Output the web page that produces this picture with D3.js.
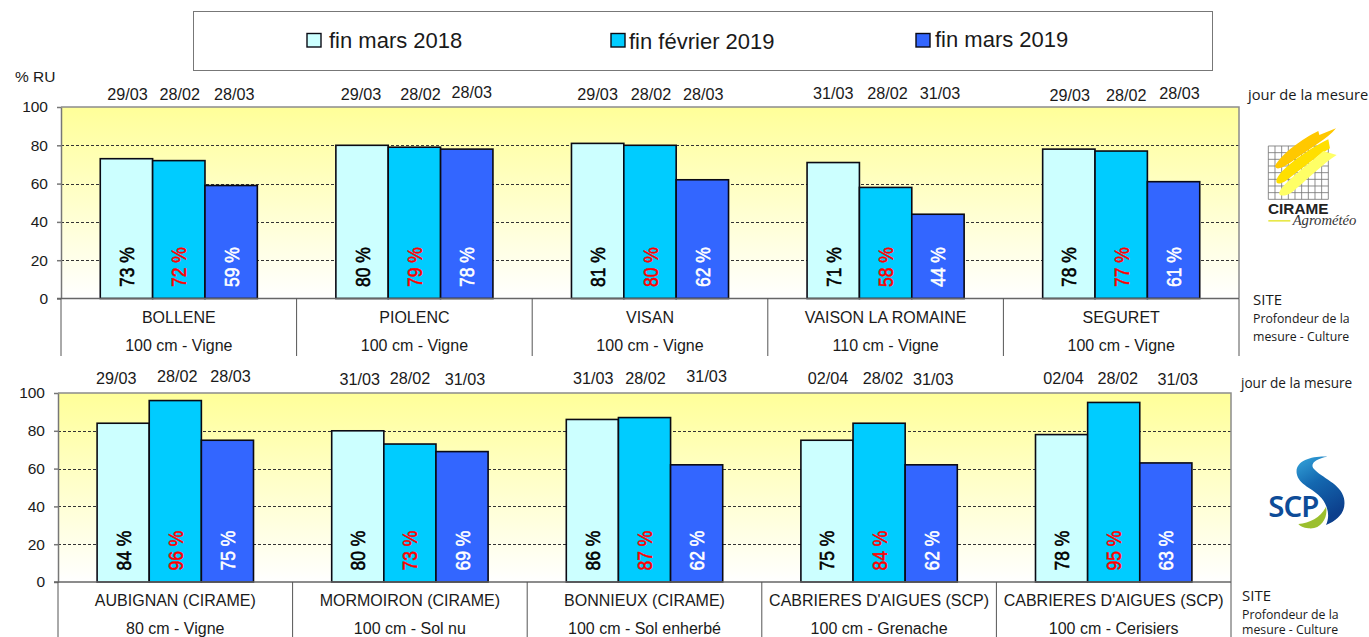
<!DOCTYPE html>
<html>
<head>
<meta charset="utf-8">
<title>Réserve utile</title>
<script src="https://cdn.jsdelivr.net/npm/d3@7"></script>
<style>
  html, body { margin: 0; padding: 0; background: #fff; overflow: hidden; }
  text { font-family: "Liberation Sans", Arial, sans-serif; fill: #1a1a1a; }
  .note { font-family: "Open Sans", "Noto Sans", sans-serif; }
</style>
</head>
<body>
<div id="viz"></div>
<script>
const seriesNames = ["fin mars 2018", "fin février 2019", "fin mars 2019"];
const seriesColors = ["#ccffff", "#00ccff", "#3366ff"];
const valueColors = ["#000000", "#ff0000", "#ffffff"];
const yTicks = [0, 20, 40, 60, 80, 100];

const sitesTop = ["BOLLENE", "PIOLENC", "VISAN", "VAISON LA ROMAINE", "SEGURET"];
const depthsTop = ["100 cm - Vigne", "100 cm - Vigne", "100 cm - Vigne", "110 cm - Vigne", "100 cm - Vigne"];
const valuesTop2018 = [73, 80, 81, 71, 78];
const valuesTopFev2019 = [72, 79, 80, 58, 77];
const valuesTopMar2019 = [59, 78, 62, 44, 61];
const datesTop = [
    ["29/03", "28/02", "28/03"],
    ["29/03", "28/02", "28/03"],
    ["29/03", "28/02", "28/03"],
    ["31/03", "28/02", "31/03"],
    ["29/03", "28/02", "28/03"]
];

const sitesBottom = ["AUBIGNAN (CIRAME)", "MORMOIRON (CIRAME)", "BONNIEUX (CIRAME)", "CABRIERES D'AIGUES (SCP)", "CABRIERES D'AIGUES (SCP) "];
const depthsBottom = ["80 cm - Vigne", "100 cm - Sol nu", "100 cm - Sol enherbé", "100 cm - Grenache", "100 cm - Cerisiers"];
const valuesBottom2018 = [84, 80, 86, 75, 78];
const valuesBottomFev2019 = [96, 73, 87, 84, 95];
const valuesBottomMar2019 = [75, 69, 62, 62, 63];
const datesBottom = [
    ["29/03", "28/02", "28/03"],
    ["31/03", "28/02", "31/03"],
    ["31/03", "28/02", "31/03"],
    ["02/04", "28/02", "31/03"],
    ["02/04", "28/02", "31/03"]
];

// the date labels were placed by hand in the original, so they wander a bit
const nudgeTop = [
    [[1, 0], [1, 0], [3, 0]],
    [[-1, 0], [6, 0], [5, -2]],
    [[0, 0], [1, 0], [1, 0]],
    [[0, -1], [2, -1], [2, -1]],
    [[1, 1], [5, 1], [6, -1]]
];
const nudgeBottom = [
    [[-7, 2], [2, 0], [3, 0]],
    [[2, 3], [0, 2], [3, 3]],
    [[1, 2], [1, 2], [10, 0]],
    [[1, 2], [4, 2], [2, 3]],
    [[2, 2], [4, 2], [12, 3]]
];

const width = 1369, height = 637;

const svg = d3.select("#viz").append("svg")
    .attr("width", width)
    .attr("height", height)
    .style("display", "block");

const defs = svg.append("defs");
const grad = defs.append("linearGradient")
    .attr("id", "plotBg")
    .attr("x1", 0).attr("y1", 0).attr("x2", 0).attr("y2", 1);
grad.append("stop").attr("offset", "0%").attr("stop-color", "#ffff99");
grad.append("stop").attr("offset", "100%").attr("stop-color", "#ffffff");

function drawPanel(opt) {
    const x = d3.scaleBand().domain(opt.sites).range([opt.left, opt.right]);
    const xInner = d3.scaleBand().domain(seriesNames)
        .range([0, x.bandwidth()])
        .paddingInner(0).paddingOuter(0.75);
    const y = d3.scaleLinear().domain([0, 100]).range([opt.bottom, opt.top]);

    svg.append("rect")
        .attr("x", opt.left).attr("y", opt.top)
        .attr("width", opt.right - opt.left).attr("height", opt.bottom - opt.top)
        .attr("fill", "url(#plotBg)");

    // grid
    svg.append("g").selectAll("line")
        .data(yTicks.filter(d => d > 0 && d < 100))
        .enter().append("line")
        .attr("x1", opt.left).attr("x2", opt.right)
        .attr("y1", d => Math.round(y(d)) + 0.5).attr("y2", d => Math.round(y(d)) + 0.5)
        .attr("stroke", "#333")
        .attr("stroke-width", 1)
        .attr("stroke-dasharray", "3,2");

    // frame
    svg.append("path")
        .attr("d", "M" + opt.left + "," + opt.top + "H" + opt.right + "V" + opt.bottom)
        .attr("fill", "none").attr("stroke", "#8c8c8c").attr("stroke-width", 1.5);

    // bars
    const groups = svg.append("g").selectAll("g")
        .data(opt.sites)
        .enter().append("g")
        .attr("transform", d => "translate(" + x(d) + ",0)");

    opt.values.forEach(function(vals, s) {
        groups.append("rect")
            .attr("x", xInner(seriesNames[s]))
            .attr("width", xInner.bandwidth())
            .attr("y", (d, i) => y(vals[i]))
            .attr("height", (d, i) => y(0) - y(vals[i]))
            .attr("fill", seriesColors[s])
            .attr("stroke", "#0a0a14")
            .attr("stroke-width", 1.6);

        // the value labels are stretched across the bar in the original
        groups.append("text")
            .attr("transform", "translate(" + (xInner(seriesNames[s]) + xInner.bandwidth() / 2 + 7.5) + "," + (opt.bottom - 11.5) + ") rotate(-90) scale(1,1.2)")
            .style("font-size", "17.5px")
            .style("fill", valueColors[s])
            .style("stroke", valueColors[s])
            .style("stroke-width", 0.5)
            .text((d, i) => vals[i] + " %");

        groups.append("text")
            .attr("x", (d, i) => xInner(seriesNames[s]) + xInner.bandwidth() / 2 + opt.nudge[i][s][0])
            .attr("y", (d, i) => opt.dateY + opt.nudge[i][s][1])
            .attr("text-anchor", "middle")
            .style("font-size", "16.2px")
            .text((d, i) => opt.dates[i][s]);
    });

    // y axis
    const yAxis = svg.append("g")
        .attr("transform", "translate(" + opt.left + ",0)")
        .call(d3.axisLeft(y).tickValues(yTicks).tickSize(4).tickPadding(9).tickSizeOuter(0));
    yAxis.selectAll("path, line").attr("stroke", "#777").attr("stroke-width", 1.5);
    yAxis.selectAll("text").style("font-size", "15.5px").attr("font-family", null);

    // site axis below the plot
    svg.append("line")
        .attr("x1", opt.left - 4).attr("x2", opt.right)
        .attr("y1", opt.bottom).attr("y2", opt.bottom)
        .attr("stroke", "#666").attr("stroke-width", 1.5);

    const cuts = x.domain().map(d => x(d)).concat([opt.right]);
    svg.append("g").selectAll("line")
        .data(cuts)
        .enter().append("line")
        .attr("x1", d => d).attr("x2", d => d)
        .attr("y1", opt.bottom).attr("y2", opt.axisEnd)
        .attr("stroke", "#555").attr("stroke-width", 1);

    svg.append("g").selectAll("text")
        .data(opt.sites)
        .enter().append("text")
        .attr("x", d => x(d) + x.bandwidth() / 2)
        .attr("y", opt.bottom + 24)
        .attr("text-anchor", "middle")
        .style("font-size", "16px")
        .text(d => d.trim());

    svg.append("g").selectAll("text")
        .data(opt.depths)
        .enter().append("text")
        .attr("x", (d, i) => x(opt.sites[i]) + x.bandwidth() / 2)
        .attr("y", opt.bottom + 52)
        .attr("text-anchor", "middle")
        .style("font-size", "16px")
        .text(d => d);
}

drawPanel({
    sites: sitesTop, depths: depthsTop, dates: datesTop, nudge: nudgeTop,
    values: [valuesTop2018, valuesTopFev2019, valuesTopMar2019],
    left: 61, right: 1239, top: 107, bottom: 298.5, dateY: 99.5, axisEnd: 356
});
drawPanel({
    sites: sitesBottom, depths: depthsBottom, dates: datesBottom, nudge: nudgeBottom,
    values: [valuesBottom2018, valuesBottomFev2019, valuesBottomMar2019],
    left: 58, right: 1231, top: 393, bottom: 582, dateY: 381.5, axisEnd: 637
});

// legend
svg.append("rect")
    .attr("x", 193.5).attr("y", 11.5).attr("width", 1019).attr("height", 59)
    .attr("fill", "#fff").attr("stroke", "#777").attr("stroke-width", 1);
const legendX = [307, 611, 916];
const legendTextX = [329, 629, 935];
const legendY = [47.5, 48.5, 46.5];
seriesNames.forEach(function(name, i) {
    svg.append("rect")
        .attr("x", legendX[i]).attr("y", 33.5).attr("width", 14).attr("height", 13.5)
        .attr("fill", seriesColors[i]).attr("stroke", "#0a0a14").attr("stroke-width", 1.4);
    svg.append("text")
        .attr("x", legendTextX[i]).attr("y", legendY[i])
        .style("font-size", "22px")
        .text(name);
});

svg.append("text").attr("x", 15).attr("y", 82).style("font-size", "15.5px").text("% RU");

// side notes
svg.append("text").attr("class", "note").attr("x", 1248).attr("y", 100).style("font-size", "14.7px").text("jour de la mesure");
svg.append("text").attr("class", "note").attr("x", 1241).attr("y", 388).style("font-size", "13.6px").text("jour de la mesure");
function sideNote(xPos, yPos, lineHeight) {
    svg.append("text").attr("class", "note").attr("x", xPos).attr("y", yPos).style("font-size", "15px").text("SITE");
    svg.append("text").attr("class", "note").attr("x", xPos).attr("y", yPos + 18).style("font-size", "12.3px").text("Profondeur de la");
    svg.append("text").attr("class", "note").attr("x", xPos).attr("y", yPos + 18 + lineHeight).style("font-size", "12.3px").text("mesure - Culture");
}
sideNote(1253, 305, 18);
sideNote(1242, 600.5, 15);

// CIRAME logo
const cirame = svg.append("g").attr("transform", "translate(1180,80) scale(0.3333)");
cirame.append("g").selectAll("line").data(d3.range(0, 10)).enter().append("line")
    .attr("x1", d => 265 + d * 20).attr("x2", d => 265 + d * 20)
    .attr("y1", 198).attr("y2", 358)
    .attr("stroke", "#777").attr("stroke-width", 2.5);
cirame.append("g").selectAll("line").data(d3.range(0, 9)).enter().append("line")
    .attr("x1", 265).attr("x2", 445)
    .attr("y1", d => 198 + d * 20).attr("y2", d => 198 + d * 20)
    .attr("stroke", "#777").attr("stroke-width", 2.5);
cirame.append("path").attr("fill", "#ffc800")
    .attr("d", "M285,258 C305,220 370,175 415,153 L418,165 L468,145 C445,175 390,205 345,238 C325,252 290,278 285,258Z");
cirame.append("path").attr("fill", "#ffdf00")
    .attr("d", "M290,298 C305,262 390,205 445,178 L450,205 C410,228 355,275 318,302 C300,314 285,314 290,298Z");
cirame.append("path").attr("fill", "#ffff66")
    .attr("d", "M300,332 C320,300 390,250 430,213 L470,225 C430,250 375,305 338,335 C315,352 290,350 300,332Z");
cirame.append("text").attr("x", 264).attr("y", 403)
    .style("font-size", "46px").style("font-weight", "bold").style("fill", "#222")
    .text("CIRAME");
cirame.append("rect").attr("x", 265).attr("y", 420).attr("width", 66).attr("height", 5).attr("fill", "#e8e84a");
cirame.append("text").attr("x", 338).attr("y", 436)
    .style("font-family", "'Liberation Serif', serif").style("font-style", "italic")
    .style("font-size", "44px").style("fill", "#333")
    .text("Agrométéo");

// SCP logo
const scpGrad = defs.append("linearGradient")
    .attr("id", "scpBlue").attr("x1", 0).attr("y1", 0).attr("x2", 0.4).attr("y2", 1);
scpGrad.append("stop").attr("offset", "0%").attr("stop-color", "#35a6dc");
scpGrad.append("stop").attr("offset", "45%").attr("stop-color", "#1468b0");
scpGrad.append("stop").attr("offset", "100%").attr("stop-color", "#0c3f8c");
const scp = svg.append("g").attr("transform", "translate(1180,370) scale(0.3333)");
scp.append("path").attr("fill", "url(#scpBlue)")
    .attr("d", "M442,260 C395,258 345,272 350,310 C355,345 400,355 425,385 C445,410 450,440 438,465 C475,450 500,425 492,385 C482,340 425,325 400,295 C390,280 410,265 442,260Z");
scp.append("path").attr("fill", "#9bbf2e")
    .attr("d", "M355,462 C390,460 425,440 438,410 C445,440 425,480 385,475 C370,473 360,468 355,462Z");
scp.append("text").attr("x", 265).attr("y", 441)
    .style("font-family", "'Noto Sans', sans-serif")
    .style("font-size", "88px").style("font-weight", "600").style("fill", "#0e4c98")
    .style("letter-spacing", "-3px")
    .text("SCP");
</script>
</body>
</html>
